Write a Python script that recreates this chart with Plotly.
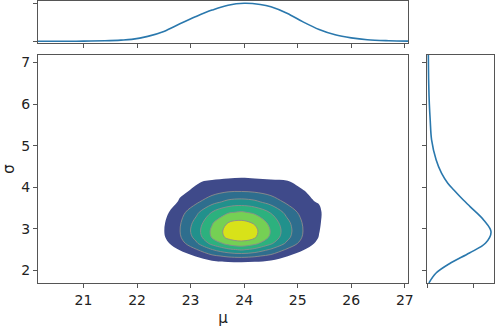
import plotly.graph_objects as go

# ---- joint KDE density grid (relative units) ----
mu_cols = [21.9, 22.2, 22.5, 22.8, 23.1, 23.4, 23.7, 23.95, 24.2, 24.5, 24.8, 25.1, 25.4, 25.7, 26.0]
sigma_rows = [1.9, 2.05, 2.2, 2.35, 2.5, 2.65, 2.8, 2.95, 3.15, 3.4, 3.65, 3.9, 4.15, 4.4, 4.65]
density = [
    [0, 0, 0, 0, 0, 0, 0, 0, 0, 0, 0, 0, 0, 0, 0],
    [0, 0, 0, 0, 0.06, 0.14, 0.19, 0.2, 0.18, 0.13, 0.06, 0, 0, 0, 0],
    [0, 0, 0, 0.12, 0.37, 0.74, 0.95, 1.0, 0.93, 0.71, 0.36, 0.12, 0, 0, 0],
    [0, 0, 0.12, 0.51, 1.07, 1.8, 2.2, 2.3, 2.15, 1.75, 1.05, 0.51, 0.13, 0, 0],
    [0, 0.05, 0.33, 1.06, 1.9, 2.95, 3.75, 4.1, 3.7, 2.85, 1.85, 1.06, 0.38, 0.07, 0],
    [0, 0.12, 0.69, 1.57, 2.8, 4.3, 5.35, 5.7, 5.25, 4.15, 2.8, 1.57, 0.74, 0.15, 0],
    [0, 0.17, 0.91, 1.89, 3.31, 5.1, 6.25, 6.45, 6.1, 4.8, 3.3, 1.90, 0.96, 0.19, 0],
    [0, 0.18, 0.97, 1.98, 3.52, 5.2, 6.4, 6.9, 6.25, 4.94, 3.45, 1.99, 1.03, 0.22, 0],
    [0, 0.17, 0.92, 1.90, 3.32, 4.90, 6.0, 6.25, 5.9, 4.68, 3.28, 1.91, 1.1, 0.19, 0],
    [0, 0.13, 0.72, 1.60, 2.74, 4.03, 4.89, 5.11, 4.79, 3.92, 2.69, 1.61, 1.15, 0.15, 0],
    [0, 0.06, 0.40, 1.1, 1.8, 2.65, 3.25, 3.4, 3.2, 2.6, 1.8, 1.15, 0.95, 0.08, 0],
    [0, 0, 0.14, 0.85, 1.15, 1.6, 1.95, 2.0, 1.9, 1.6, 1.2, 1.1, 0.45, 0, 0],
    [0, 0, 0, 0.17, 0.9, 1.1, 1.2, 1.26, 1.2, 1.15, 1.05, 0.5, 0, 0, 0],
    [0, 0, 0, 0, 0.12, 0.21, 0.40, 0.44, 0.38, 0.20, 0.12, 0, 0, 0, 0],
    [0, 0, 0, 0, 0, 0.02, 0.06, 0.07, 0.05, 0.02, 0, 0, 0, 0, 0],
]

# ---- marginal KDE of mu (top) ----
mu_marg_x = [20.15, 20.6, 21.0, 21.4, 21.7, 21.9, 22.2, 22.5, 22.8, 23.1, 23.4, 23.7,
             24.0, 24.3, 24.5, 24.8, 25.1, 25.4, 25.7, 26.0, 26.3, 26.7, 27.06]
mu_marg_d = [0.0, 0.0, 0.005, 0.015, 0.03, 0.05, 0.13, 0.26, 0.46, 0.65, 0.82, 0.95,
             1.0, 0.97, 0.91, 0.74, 0.51, 0.31, 0.17, 0.09, 0.04, 0.015, 0.005]

# ---- marginal KDE of sigma (right) ----
sig_marg_y = [1.70, 1.94, 2.18, 2.42, 2.66, 2.93, 3.21, 3.53, 3.70, 3.93, 4.10, 4.34,
              4.66, 5.14, 5.6, 6.0, 6.5, 7.18]
sig_marg_d = [0.01, 0.09, 0.25, 0.46, 0.64, 0.70, 0.62, 0.47, 0.39, 0.29, 0.22, 0.15,
              0.09, 0.04, 0.025, 0.015, 0.008, 0.004]

x_ticks = [21, 22, 23, 24, 25, 26, 27]
y_ticks = [2, 3, 4, 5, 6, 7]
band_colors = ["#3f4a8a", "#2e6e8e", "#21918c", "#2cb17e", "#75d054", "#d8e219"]

# stepwise colorscale: lowest band transparent, then viridis bands
cs = [[0, "rgba(255,255,255,0)"], [1 / 12, "rgba(255,255,255,0)"]]
for i, c in enumerate(band_colors):
    lo = (2 * i + 1) / 12
    hi = min((2 * i + 3) / 12, 1)
    cs.append([lo, c])
    cs.append([hi, c])

fig = go.Figure()
fig.add_trace(go.Contour(
    x=mu_cols, y=sigma_rows, z=density,
    autocontour=False,
    contours=dict(start=1, end=6, size=1, coloring="fill", showlines=False),
    line=dict(width=0, smoothing=1.0),
    colorscale=cs, showscale=False, hoverinfo="skip",
))
fig.add_trace(go.Contour(
    x=mu_cols, y=sigma_rows, z=density,
    autocontour=False,
    contours=dict(start=2, end=6, size=1, coloring="none", showlines=True),
    line=dict(width=1, color="rgba(140,140,140,0.9)", smoothing=1.0),
    showscale=False, hoverinfo="skip",
))
line_col = "#2a78ad"
fig.add_trace(go.Scatter(x=mu_marg_x, y=mu_marg_d, mode="lines",
                         line=dict(color=line_col, width=1.6, shape="spline"),
                         xaxis="x2", yaxis="y2", hoverinfo="skip"))
fig.add_trace(go.Scatter(x=sig_marg_d, y=sig_marg_y, mode="lines",
                         line=dict(color=line_col, width=1.6, shape="spline"),
                         xaxis="x3", yaxis="y3", hoverinfo="skip"))

W, H = 495, 328
xr = [20.15, 27.06]
yr = [1.70, 7.18]
frame = dict(showline=True, mirror=True, linecolor="#555", linewidth=1,
             showgrid=False, zeroline=False, ticks="outside", ticklen=4,
             tickcolor="#555", tickwidth=1, automargin=False)
font = dict(family="DejaVu Sans", size=14, color="#222")

fig.update_layout(
    template="none",
    width=W, height=H,
    margin=dict(l=0, r=0, t=0, b=0, pad=0),
    paper_bgcolor="white", plot_bgcolor="white",
    showlegend=False, font=font,
    xaxis=dict(domain=[38 / W, 408 / W], range=xr, tickvals=x_ticks,
               title=dict(text="μ", font=dict(size=15), standoff=5),
               anchor="y", **frame),
    yaxis=dict(domain=[1 - 283 / H, 1 - 55 / H], range=yr, tickvals=y_ticks,
               title=dict(text="σ", font=dict(size=15), standoff=4),
               anchor="x", **frame),
    xaxis2=dict(domain=[38 / W, 408 / W], range=xr, tickvals=x_ticks,
                showticklabels=False, anchor="y2", **frame),
    yaxis2=dict(domain=[1 - 43 / H, 1 - 1 / H], range=[-0.045, 1.06], tickvals=[0, 1],
                showticklabels=False, anchor="x2", **frame),
    xaxis3=dict(domain=[427 / W, 494 / W], range=[-0.011, 0.733], tickvals=[0, 0.5],
                showticklabels=False, anchor="y3", **frame),
    yaxis3=dict(domain=[1 - 283 / H, 1 - 55 / H], range=yr, tickvals=y_ticks,
                showticklabels=False, anchor="x3", **frame),
)

fig.write_html("out.html", config={"displayModeBar": False, "staticPlot": True},
               post_script="document.body.style.margin='0';")
